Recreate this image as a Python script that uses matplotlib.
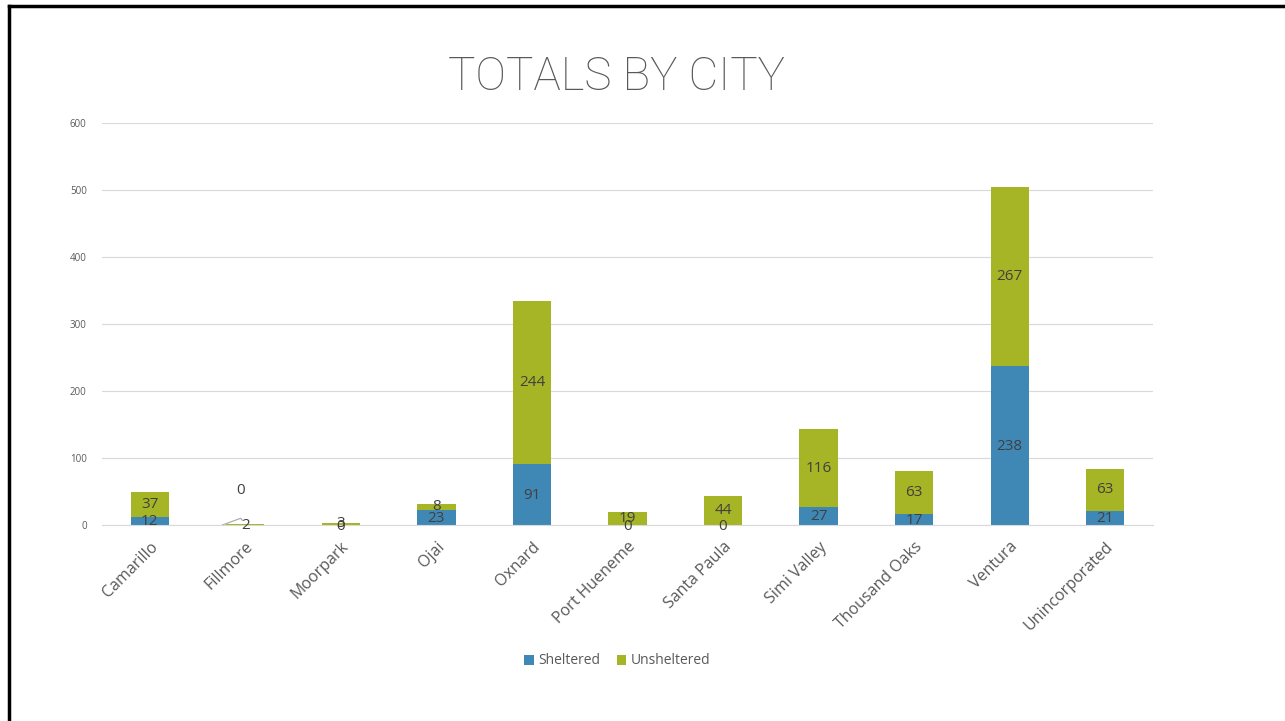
import numpy as np
import matplotlib.pyplot as plt
from matplotlib.lines import Line2D

cities = ["Camarillo", "Fillmore", "Moorpark", "Ojai", "Oxnard", "Port Hueneme",
          "Santa Paula", "Simi Valley", "Thousand Oaks", "Ventura", "Unincorporated"]
sheltered = [12, 0, 0, 23, 91, 0, 0, 27, 17, 238, 21]
unsheltered = [37, 2, 3, 8, 244, 19, 44, 116, 63, 267, 63]
yticks = [0, 100, 200, 300, 400, 500, 600]

blue = "#3F88B5"
green = "#A6B525"
txt = "#404040"

plt.rcParams['font.family'] = ['Open Sans', 'DejaVu Sans']

fig = plt.figure(figsize=(12.85, 7.21), dpi=100)
W, H = 1285, 721
ax = fig.add_axes([102 / W, 1 - 525 / H, (1153 - 102) / W, (525 - 123) / H])

x = np.arange(len(cities))
b1 = ax.bar(x, sheltered, 0.4, color=blue, label="Sheltered")
b2 = ax.bar(x, unsheltered, 0.4, bottom=sheltered, color=green, label="Unsheltered")

# data labels centred in each segment
for i in range(len(cities)):
    s, u = sheltered[i], unsheltered[i]
    if cities[i] == "Fillmore":
        # zero label pushed up, with a short leader line
        ax.text(i - 0.05, 51, str(s), ha="center", va="center", fontsize=11, color=txt)
        ax.add_line(Line2D([i - 0.24, i - 0.05, i - 0.03], [0, 10, 7],
                           color="#A6A6A6", lw=0.8))
        ax.text(i, s + u / 2 - 1.5, str(u), ha="center", va="center", fontsize=11, color=txt)
        continue
    ax.text(i, s / 2 - 1.5, str(s), ha="center", va="center", fontsize=11, color=txt)
    ax.text(i, s + u / 2, str(u), ha="center", va="center", fontsize=11, color=txt)

ax.set_xlim(-0.5, len(cities) - 0.5)
ax.set_ylim(0, 600)
ax.set_yticks(yticks)
ax.set_yticklabels([str(v) for v in yticks], fontsize=7, color="#595959")
ax.set_xticks(x)
ax.set_xticklabels(cities, rotation=45, ha="right", rotation_mode="anchor",
                   fontsize=11.5, color="#595959")
ax.tick_params(axis="x", length=0, pad=10)
ax.tick_params(axis="y", length=0, pad=11)
ax.grid(axis="y", color="#D9D9D9", lw=0.8)
ax.set_axisbelow(True)
for sp in ["top", "right", "left"]:
    ax.spines[sp].set_visible(False)
ax.spines["bottom"].set_color("#D9D9D9")

fig.text(616 / W, 1 - 77 / H, "TOTALS BY CITY", ha="center", va="center",
         fontsize=33, color="#595959", family=["Roboto", "DejaVu Sans"], weight="light")

fig.legend(handles=[b1, b2], loc="center", bbox_to_anchor=(617 / W, 1 - 661 / H),
           ncol=2, frameon=False, fontsize=10, handlelength=0.7, handleheight=0.7,
           columnspacing=1.2, handletextpad=0.3, labelcolor="#595959")

# slide border
fig.add_artist(Line2D([9 / W, 1], [1 - 6 / H, 1 - 6 / H], color="black", lw=2.5))
fig.add_artist(Line2D([9 / W, 9 / W], [0, 1 - 6 / H], color="black", lw=2.5))

fig.savefig("out.png", dpi=100)
